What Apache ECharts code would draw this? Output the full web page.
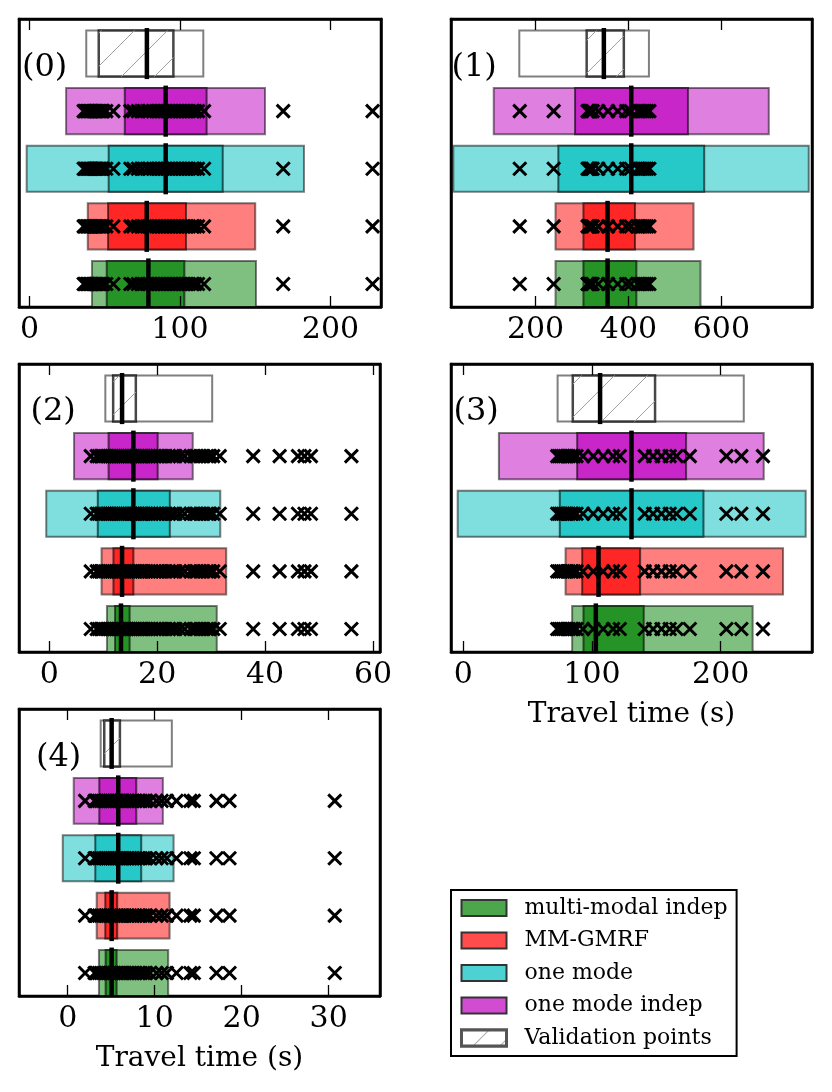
<!DOCTYPE html>
<html><head><meta charset="utf-8">
<script src="https://cdn.jsdelivr.net/npm/echarts@6/dist/echarts.min.js"></script>
<style>html,body{margin:0;padding:0;background:#fff}#c{width:832px;height:1092px}</style>
</head><body><div id="c"></div>
<script>
// ---------------- data ----------------
const GROUPS = ['multi-modal indep', 'MM-GMRF', 'one mode', 'one mode indep', 'Validation points'];
const PANEL_LABELS = ['(0)', '(1)', '(2)', '(3)', '(4)'];
const AXIS_TITLE = 'Travel time (s)';

// row order: multi-modal indep, MM-GMRF, one mode, one mode indep, Validation points
const P0_LOW  = [41.5, 38.7, -1.9, 24.3, 37.7];
const P0_Q1   = [51.3, 52.2, 52.6, 63.3, 46.0];
const P0_MED  = [79.0, 77.9, 90.5, 90.5, 78.0];
const P0_Q3   = [102.9, 104.0, 128.4, 117.7, 95.6];
const P0_HIGH = [150.5, 150.0, 182.4, 156.5, 115.5];
const P0_OBS  = [36, 37, 38, 39, 40, 41, 42, 43, 44, 45, 46, 47, 48, 49, 51, 55.7, 67, 69, 72, 75, 78, 80, 82, 84, 86, 88, 90, 92, 94, 96, 98, 100, 102, 104, 106, 108, 110, 112, 116, 168.6, 228];
const P0_TICKS = [0, 100, 200];

const P1_LOW  = [243, 243, 23, 110, 165];
const P1_Q1   = [303, 303, 249, 285, 310];
const P1_MED  = [355, 355, 406, 406, 347];
const P1_Q3   = [417, 414, 563, 528, 390];
const P1_HIGH = [555, 540, 788, 702, 444];
const P1_OBS  = [166, 239, 312, 314, 316, 318, 320, 323, 335, 356, 377, 395, 405, 420, 424, 428, 432, 436, 440, 445];
const P1_TICKS = [200, 400, 600];

const P2_LOW  = [10.7, 9.7, -0.55, 4.6, 10.4];
const P2_Q1   = [12.2, 11.9, 9.0, 11.0, 11.85];
const P2_MED  = [13.3, 13.5, 15.6, 15.6, 13.5];
const P2_Q3   = [14.9, 15.6, 22.35, 20.1, 16.05];
const P2_HIGH = [31.05, 32.8, 31.7, 26.6, 30.2];
const P2_OBS  = [7.7, 8.8, 9.2, 9.6, 10.0, 10.4, 10.8, 11.2, 11.6, 12.0, 12.4, 12.8, 13.2, 13.6, 14.0, 14.4, 14.8, 15.2, 15.6, 16.0, 16.4, 16.8, 17.2, 17.6, 18.0, 18.5, 19.0, 19.5, 20.0, 20.5, 21.0, 21.6, 22.2, 22.8, 23.4, 24.2, 25.1, 26.2, 26.8, 27.4, 28.0, 28.6, 29.2, 29.8, 30.4, 31.6, 37.8, 42.7, 46.1, 47.3, 48.5, 56.0];
const P2_TICKS = [0, 20, 40, 60];

const P3_LOW  = [84.6, 79.5, -4.3, 27.7, 73.3];
const P3_Q1   = [93.4, 92.4, 75.0, 88.5, 85.1];
const P3_MED  = [103.0, 105.1, 130.7, 130.7, 106.3];
const P3_Q3   = [140.2, 137.4, 186.6, 173.1, 149.0];
const P3_HIGH = [224.8, 248.4, 266.0, 233.4, 217.9];
const P3_OBS  = [73, 74.5, 76, 77.5, 79, 80.5, 82, 84, 86, 88, 93, 101, 108.7, 116.4, 121.6, 141, 147.5, 154, 160.4, 165.6, 176, 204.4, 216, 232.8];
const P3_TICKS = [0, 100, 200];

const P4_LOW  = [3.59, 3.33, -0.57, 0.69, 3.79];
const P4_Q1   = [4.36, 4.32, 3.17, 3.63, 4.2];
const P4_MED  = [5.05, 5.05, 5.81, 5.81, 5.05];
const P4_Q3   = [5.62, 5.69, 8.45, 7.88, 6.0];
const P4_HIGH = [11.55, 11.71, 12.17, 10.94, 11.97];
const P4_OBS  = [2.0, 3.1, 3.35, 3.6, 3.85, 4.1, 4.35, 4.6, 4.85, 5.1, 5.35, 5.6, 5.85, 6.1, 6.35, 6.6, 6.9, 7.2, 7.5, 7.8, 8.1, 8.4, 8.7, 9.0, 9.45, 10.2, 10.8, 11.4, 12.5, 14.1, 14.5, 17.1, 18.6, 30.7];
const P4_TICKS = [0, 10, 20, 30];

const X_MIN = [-7, 18, -5.6, -9.5, -5.6];
const X_MAX = [233.6, 795, 61.3, 270.9, 35.9];

// ---------------- styling / layout ----------------
const PANELS = [
  {low: P0_LOW, q1: P0_Q1, med: P0_MED, q3: P0_Q3, high: P0_HIGH, obs: P0_OBS, ticks: P0_TICKS},
  {low: P1_LOW, q1: P1_Q1, med: P1_MED, q3: P1_Q3, high: P1_HIGH, obs: P1_OBS, ticks: P1_TICKS},
  {low: P2_LOW, q1: P2_Q1, med: P2_MED, q3: P2_Q3, high: P2_HIGH, obs: P2_OBS, ticks: P2_TICKS},
  {low: P3_LOW, q1: P3_Q1, med: P3_MED, q3: P3_Q3, high: P3_HIGH, obs: P3_OBS, ticks: P3_TICKS},
  {low: P4_LOW, q1: P4_Q1, med: P4_MED, q3: P4_Q3, high: P4_HIGH, obs: P4_OBS, ticks: P4_TICKS}
];
const GRIDS = [
  {left: 19, top: 19, width: 362, height: 288},
  {left: 451, top: 19, width: 361, height: 288},
  {left: 19, top: 364, width: 361, height: 288},
  {left: 451, top: 364, width: 361, height: 288},
  {left: 19, top: 709, width: 361, height: 287}
];
const LABEL_POS = [[22, 68], [451.5, 68], [30.5, 412], [453.5, 412], [36, 758]];
const OUTER = ['#7fbf7f', '#ff7f7f', '#7fdfdf', '#df7fdf', '#ffffff'];
const INNER = ['#269326', '#ff2626', '#26c8c8', '#c826c8', '#ffffff'];
const LEGEND_COL = ['#4ca64c', '#ff4c4c', '#4cd2d2', '#d24cd2', '#ffffff'];
const FONT = 'DejaVu Serif';
const HALF = 0.4;

function renderBox(params, api) {
  const row = api.value(0);
  const lo = api.value(1), q1 = api.value(2), med = api.value(3), q3 = api.value(4), hi = api.value(5);
  const a = api.coord([lo, row + HALF]), b = api.coord([hi, row - HALF]);
  const c = api.coord([q1, row + HALF]), d = api.coord([q3, row - HALF]);
  const m = api.coord([med, row]);
  const isVal = row === 4;
  const children = [];
  children.push({type: 'rect', shape: {x: a[0], y: a[1], width: b[0] - a[0], height: b[1] - a[1]},
    style: {fill: OUTER[row], stroke: 'rgba(0,0,0,0.5)', lineWidth: 2}});
  children.push({type: 'rect', shape: {x: c[0], y: c[1], width: d[0] - c[0], height: d[1] - c[1]},
    style: {fill: INNER[row], stroke: isVal ? 'rgba(0,0,0,0.72)' : 'rgba(0,0,0,0.6)', lineWidth: isVal ? 2.5 : 2}});
  if (isVal) {
    const x0 = c[0], x1 = d[0], y0 = c[1], y1 = d[1];
    const S = 33;
    for (let k = Math.ceil((x0 + y0) / S) * S; k <= x1 + y1; k += S) {
      const xa = Math.max(x0, k - y1), xb = Math.min(x1, k - y0);
      if (xb > xa) {
        children.push({type: 'line', shape: {x1: xa, y1: k - xa, x2: xb, y2: k - xb},
          style: {stroke: '#a0a0a0', lineWidth: 1}});
      }
    }
  }
  children.push({type: 'line', shape: {x1: m[0], y1: a[1] - 2.5, x2: m[0], y2: b[1] + 2.5},
    style: {stroke: '#000', lineWidth: 4.5}});
  return {type: 'group', children: children};
}

const xAxes = [], yAxes = [], series = [], graphics = [];
PANELS.forEach((p, i) => {
  const named = (i === 3 || i === 4);
  const base = {
    gridIndex: i, type: 'value', min: X_MIN[i], max: X_MAX[i], z: 10,
    axisLine: {show: true, onZero: false, lineStyle: {color: '#000', width: 2.5}},
    axisTick: {show: true, inside: true, length: 11, customValues: p.ticks, lineStyle: {color: '#000', width: 1.3}},
    splitLine: {show: false}
  };
  xAxes.push(Object.assign({}, base, {
    position: 'bottom',
    axisLabel: {show: true, customValues: p.ticks, fontSize: 30, fontFamily: FONT, color: '#000', margin: 8},
    name: named ? AXIS_TITLE : '', nameLocation: 'middle', nameGap: 49,
    nameTextStyle: {fontSize: 28, fontFamily: FONT, color: '#000'}
  }));
  xAxes.push(Object.assign({}, base, {position: 'top', axisLabel: {show: false}}));
  const ybase = {
    gridIndex: i, type: 'value', min: -0.4, max: 4.6, z: 10,
    axisLine: {show: true, onZero: false, lineStyle: {color: '#000', width: 2.5}},
    axisTick: {show: false}, axisLabel: {show: false}, splitLine: {show: false}
  };
  yAxes.push(Object.assign({}, ybase, {position: 'left'}));
  yAxes.push(Object.assign({}, ybase, {position: 'right'}));

  GROUPS.forEach((g, gi) => {
    series.push({
      type: 'custom', name: g, xAxisIndex: 2 * i, yAxisIndex: 2 * i,
      data: [[gi, p.low[gi], p.q1[gi], p.med[gi], p.q3[gi], p.high[gi]]],
      encode: {x: [1, 2, 3, 4, 5], y: 0},
      renderItem: renderBox, clip: true, silent: true, z: 2,
      itemStyle: {color: LEGEND_COL[gi]}
    });
  });
  const pts = [];
  for (let r = 0; r < 4; r++) p.obs.forEach(v => pts.push([v, r]));
  series.push({
    type: 'scatter', name: 'obs', xAxisIndex: 2 * i, yAxisIndex: 2 * i,
    data: pts, symbol: 'path://M0,0L10,10M10,0L0,10', symbolSize: 13,
    itemStyle: {color: 'rgba(0,0,0,0)', borderColor: '#000', borderWidth: 3, opacity: 1},
    silent: true, z: 3, clip: true
  });
  graphics.push({type: 'text', x: LABEL_POS[i][0], y: LABEL_POS[i][1], z: 20,
    style: {text: PANEL_LABELS[i], fontSize: 32, fontFamily: FONT, fill: '#000', textVerticalAlign: 'middle', textAlign: 'left'}});
});

const legendData = GROUPS.map((g, gi) => {
  const it = {name: g, itemStyle: {color: LEGEND_COL[gi], borderColor: '#333', borderWidth: 2}};
  if (gi === 4) {
    it.itemStyle = {color: '#ffffff', borderColor: '#555', borderWidth: 3,
      decal: {symbol: 'rect', symbolSize: 1, dashArrayX: [1, 0], dashArrayY: [1, 18], rotation: -Math.PI / 4, color: '#b0b0b0', backgroundColor: '#ffffff'}};
  }
  return it;
});

const chart = echarts.init(document.getElementById('c'), null, {renderer: 'canvas'});
chart.setOption({
  animation: false,
  backgroundColor: '#fff',
  textStyle: {fontFamily: FONT},
  grid: GRIDS.map(g => Object.assign({show: true, borderColor: '#000', borderWidth: 2.5, backgroundColor: '#fff'}, g)),
  xAxis: xAxes,
  yAxis: yAxes,
  legend: {
    orient: 'vertical', left: 451, top: 890, icon: 'rect',
    itemWidth: 45, itemHeight: 16, itemGap: 10.5,
    padding: [7, 9, 7, 9],
    borderColor: '#000', borderWidth: 2, backgroundColor: '#fff',
    selectedMode: false,
    textStyle: {fontFamily: FONT, fontSize: 22, color: '#000', lineHeight: 22, padding: [0, 0, 0, 13]},
    data: legendData
  },
  graphic: graphics,
  series: series
});
</script>
</body></html>
